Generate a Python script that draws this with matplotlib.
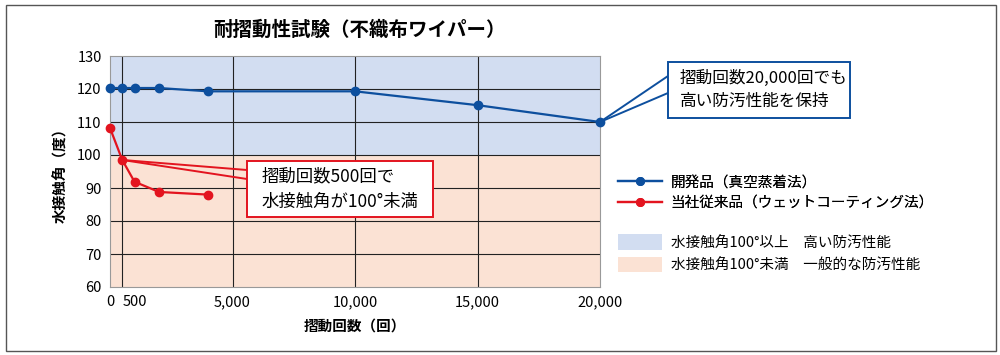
import matplotlib
matplotlib.use("Agg")
import matplotlib.pyplot as plt
from matplotlib.lines import Line2D
from matplotlib.patches import Patch, Rectangle

plt.rcParams['font.family'] = ['Noto Sans CJK JP', 'DejaVu Sans']

# data
cycles_dev = [0, 500, 1000, 2000, 4000, 10000, 15000, 20000]
angle_dev = [120.3, 120.3, 120.3, 120.3, 119.3, 119.3, 115.1, 110.0]
cycles_old = [0, 500, 1000, 2000, 4000]
angle_old = [108.2, 98.5, 91.9, 88.8, 88.0]

xticks = [0, 500, 5000, 10000, 15000, 20000]
xtick_labels = ["0", "500", "5,000", "10,000", "15,000", "20,000"]
yticks = [60, 70, 80, 90, 100, 110, 120, 130]

title = "耐摺動性試験（不織布ワイパー）"
xlabel = "摺動回数（回）"
ylabel = "水接触角（度）"
label_dev = "開発品（真空蒸着法）"
label_old = "当社従来品（ウェットコーティング法）"
label_high = "水接触角100°以上　高い防汚性能"
label_low = "水接触角100°未満　一般的な防汚性能"
note_old = "摺動回数500回で\n水接触角が100°未満"
note_dev = "摺動回数20,000回でも\n高い防汚性能を保持"

BLUE = "#0d4f9e"
RED = "#e3141f"
BAND_HI = "#d2ddf1"
BAND_LO = "#fbe2d4"

W, H = 1000, 355
fig = plt.figure(figsize=(10, 3.55), dpi=100)


def fx(px):
    return px / W


def fy(py):
    return 1 - py / H


ax = fig.add_axes([fx(110), fy(287), fx(600) - fx(110), fy(56) - fy(287)])
ax.set_xlim(0, 20000)
ax.set_ylim(60, 130)

ax.axhspan(100, 130, color=BAND_HI, zorder=0, lw=0)
ax.axhspan(60, 100, color=BAND_LO, zorder=0, lw=0)

for x in xticks[1:-1]:
    ax.axvline(x, color="#222222", lw=0.8, zorder=1)
for y in yticks[1:-1]:
    ax.axhline(y, color="#222222", lw=0.8, zorder=1)

ax.plot(cycles_dev, angle_dev, color=BLUE, lw=1.6, marker="o", ms=6, zorder=3,
        clip_on=False)
ax.plot(cycles_old, angle_old, color=RED, lw=1.6, marker="o", ms=6, zorder=3,
        clip_on=False)

for s in ax.spines.values():
    s.set_color("#999999")
    s.set_linewidth(0.8)

ax.set_yticks(yticks)
ax.set_yticklabels([str(v) for v in yticks], fontsize=10.5)
ax.set_xticks(xticks)
ax.set_xticklabels(xtick_labels, fontsize=10.5)
ax.tick_params(length=0, pad=6)
xl = ax.get_xticklabels()
xl[0].set_ha("center")
xl[1].set_ha("left")

fig.text(fx(360), fy(30), title, fontsize=14, fontweight="bold", ha="center", va="center")
fig.text(fx(355), fy(326), xlabel, fontsize=10.5, fontweight="bold", ha="center", va="center")
fig.text(fx(60), fy(172), ylabel, fontsize=10.5, fontweight="bold", rotation=90,
         ha="center", va="center")

# callouts
to_fig = ax.transData + fig.transFigure.inverted()


def callout(pt, box, ends, color, text, tx, ty, size):
    x0, y0 = to_fig.transform(pt)
    for ey in ends:
        fig.add_artist(Line2D([x0, fx(box[0])], [y0, fy(ey)], color=color, lw=1.4,
                              transform=fig.transFigure, zorder=4))
    fig.add_artist(Rectangle((fx(box[0]), fy(box[3])), fx(box[2]) - fx(box[0]),
                             fy(box[1]) - fy(box[3]), transform=fig.transFigure,
                             facecolor="white", edgecolor=color, lw=1.4, zorder=5))
    fig.text(fx(tx), fy(ty), text, fontsize=size, ha="left", va="center",
             linespacing=1.5, zorder=6)


callout((cycles_old[1], angle_old[1]), (247, 161, 433, 217), [170, 179], RED,
        note_old, 262, 189, 12.5)
callout((cycles_dev[-1], angle_dev[-1]), (668, 62, 850, 118), [76, 93], BLUE,
        note_dev, 680, 90, 12)

# legends
line_handles = [
    Line2D([], [], color=BLUE, lw=1.6, marker="o", ms=5.5, label=label_dev),
    Line2D([], [], color=RED, lw=1.6, marker="o", ms=5.5, label=label_old),
]
band_handles = [
    Patch(facecolor=BAND_HI, edgecolor="none", label=label_high),
    Patch(facecolor=BAND_LO, edgecolor="none", label=label_low),
]
leg1 = fig.legend(handles=line_handles, loc="upper left",
                  bbox_to_anchor=(fx(605), fy(162)), frameon=False, fontsize=10.5,
                  handlelength=3.0, handletextpad=0.6, labelspacing=0.45)
fig.legend(handles=band_handles, loc="upper left",
           bbox_to_anchor=(fx(605), fy(221)), frameon=False, fontsize=10.5,
           handlelength=3.0, handleheight=1.3, handletextpad=0.6, labelspacing=0.45)
fig.add_artist(leg1)

fig.add_artist(Rectangle((fx(6), fy(351)), fx(996) - fx(6), fy(5) - fy(351),
                         transform=fig.transFigure, fill=False,
                         edgecolor="#555555", lw=1.0))

fig.savefig("out.png", dpi=100)
